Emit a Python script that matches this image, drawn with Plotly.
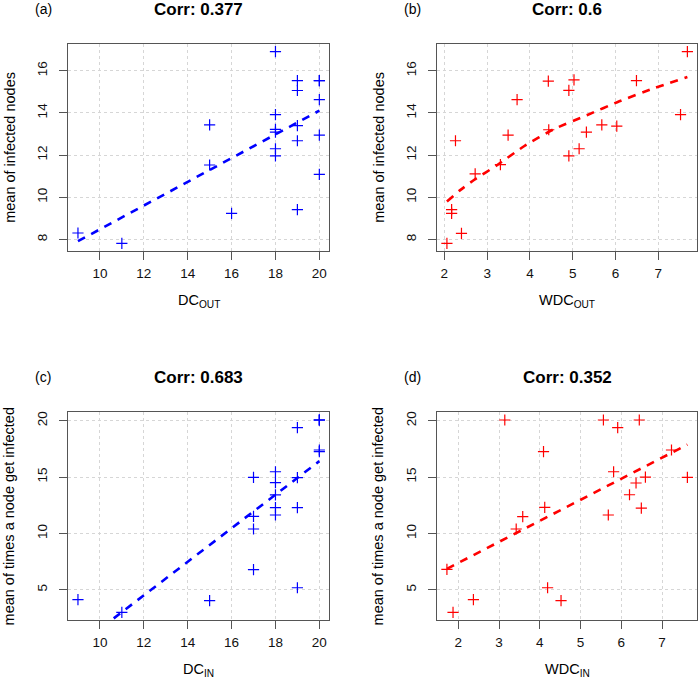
import numpy as np
import plotly.graph_objects as go

# ---------------- data ----------------
dc_out = [9, 11, 15, 15, 16, 18, 18, 18, 18, 18, 18, 19, 19, 19, 19, 19, 20, 20, 20, 20, 20]
inf_a = [8.31, 7.82, 13.43, 11.53, 9.24, 16.90, 13.92, 13.22, 13.09, 12.30, 11.96,
         15.53, 15.06, 13.40, 12.68, 9.42, 15.53, 15.53, 14.63, 12.95, 11.09]

wdc_out = [2.06, 2.40, 2.17, 2.17, 2.26, 2.72, 3.31, 3.49, 3.70, 4.43, 4.44,
           4.91, 5.03, 4.91, 5.15, 5.32, 5.68, 6.03, 6.49, 7.52, 7.68]
inf_b = [7.82, 8.29, 9.42, 9.24, 12.68, 11.11, 11.55, 12.95, 14.63, 15.50, 13.20,
         15.07, 15.56, 11.96, 12.30, 13.09, 13.43, 13.37, 15.53, 13.92, 16.90]
# fitted trend curve of panel (b)
trend_b_x = [2.06, 2.37, 2.70, 3.23, 3.87, 4.55, 5.33, 6.09, 6.88, 7.68]
trend_b_y = [9.80, 10.34, 10.83, 11.52, 12.43, 13.22, 13.89, 14.55, 15.15, 15.70]

dc_in = [20, 20, 20, 20, 20, 19, 19, 19, 19, 18, 18, 18, 18, 18, 17, 17, 17, 17, 15, 11, 9]
times_c = [20.06, 20.06, 20.06, 17.40, 17.25, 19.38, 14.94, 12.28, 5.18,
           15.47, 14.50, 13.41, 12.28, 11.63, 14.97, 11.51, 10.39, 6.78, 4.03, 3.00, 4.12]

wdc_in = [3.14, 5.56, 5.91, 6.44, 4.09, 7.23, 5.81, 6.59, 7.62, 6.36, 6.20,
          4.12, 6.49, 5.68, 3.58, 3.42, 1.72, 4.19, 2.37, 4.52, 1.87]
times_d = [20.06, 20.06, 19.38, 20.06, 17.25, 17.40, 15.47, 15.00, 14.97, 14.47, 13.43,
           12.31, 12.25, 11.63, 11.48, 10.39, 6.80, 5.18, 4.12, 4.03, 3.00]

titles = ["Corr: 0.377", "Corr: 0.6", "Corr: 0.683", "Corr: 0.352"]
tags = ["(a)", "(b)", "(c)", "(d)"]
y_titles = ["mean of infected nodes", "mean of infected nodes",
            "mean of times a node get infected", "mean of times a node get infected"]
x_main = ["DC", "WDC", "DC", "WDC"]
x_sub = ["OUT", "OUT", "IN", "IN"]
xticks_dc = [10, 12, 14, 16, 18, 20]
xticks_wdc = [2, 3, 4, 5, 6, 7]
yticks_top = [8, 10, 12, 14, 16]
yticks_bottom = [5, 10, 15, 20]

# ---------------- layout geometry (pixels) ----------------
W, H = 700, 690
cols = [(68.3, 329.0), (437.3, 697.0)]
rows = [(44.0, 251.0), (412.3, 620.0)]
FONT = "Liberation Sans, Arial, sans-serif"
BOX = "#555555"
BLUE = "#0000FF"
RED = "#FF0000"


def rrange(v):
    lo, hi = min(v), max(v)
    d = (hi - lo) * 0.04
    return [lo - d, hi + d]


def px(x):
    return x / W


def py(y):
    return 1 - y / H


def linear_trend(x, y):
    x = np.array(x, dtype=float)
    y = np.array(y, dtype=float)
    b, a = np.polyfit(x, y, 1)
    fx = np.array([x.min(), x.max()])
    return fx, a + b * fx


panels = [
    dict(x=dc_out, y=inf_a, color=BLUE, trend=linear_trend(dc_out, inf_a),
         xt=xticks_dc, yt=yticks_top, r=0, c=0),
    dict(x=wdc_out, y=inf_b, color=RED, trend=(trend_b_x, trend_b_y),
         xt=xticks_wdc, yt=yticks_top, r=0, c=1),
    dict(x=dc_in, y=times_c, color=BLUE, trend=linear_trend(dc_in, times_c),
         xt=xticks_dc, yt=yticks_bottom, r=1, c=0),
    dict(x=wdc_in, y=times_d, color=RED, trend=linear_trend(wdc_in, times_d),
         xt=xticks_wdc, yt=yticks_bottom, r=1, c=1),
]

fig = go.Figure()
annotations = []
layout = {}

for i, p in enumerate(panels):
    n = "" if i == 0 else str(i + 1)
    xa, ya = "x" + n, "y" + n
    fx, fy = p["trend"]

    fig.add_trace(go.Scatter(
        x=p["x"], y=p["y"], mode="markers", xaxis=xa, yaxis=ya, showlegend=False,
        marker=dict(symbol="cross-thin", size=8, color=p["color"],
                    line=dict(color=p["color"], width=1.2))))
    fig.add_trace(go.Scatter(
        x=fx, y=fy, mode="lines", xaxis=xa, yaxis=ya, showlegend=False,
        line=dict(color=p["color"], width=2.6, dash="8px,7px", shape="spline",
                  smoothing=0.6)))

    x0, x1 = cols[p["c"]]
    y0, y1 = rows[p["r"]]
    common = dict(showline=True, mirror=True, linecolor=BOX, linewidth=1,
                  ticks="outside", ticklen=8, tickwidth=1, tickcolor=BOX,
                  showgrid=True, gridcolor="#d6d6d6", griddash="dot", gridwidth=1,
                  zeroline=False, tickfont=dict(family=FONT, size=13.5, color="#111"))
    layout["xaxis" + n] = dict(common, domain=[px(x0), px(x1)], anchor=ya,
                               range=rrange(p["x"]), tickvals=p["xt"],
                               ticklabelstandoff=2)
    layout["yaxis" + n] = dict(common, domain=[py(y1), py(y0)], anchor=xa,
                               range=rrange(p["y"]), tickvals=p["yt"],
                               tickangle=-90, ticklabelstandoff=7)

    cx = (x0 + x1) / 2
    cy = (y0 + y1) / 2
    title_y = 9 if p["r"] == 0 else 377
    annotations.append(dict(text="<b>" + titles[i] + "</b>", x=px(cx), y=py(title_y),
                            xref="paper", yref="paper", showarrow=False,
                            xanchor="center", yanchor="middle",
                            font=dict(family=FONT, size=17, color="black")))
    annotations.append(dict(text=tags[i], x=px(x0 - 25), y=py(title_y),
                            xref="paper", yref="paper", showarrow=False,
                            xanchor="center", yanchor="middle",
                            font=dict(family=FONT, size=14, color="black")))
    annotations.append(dict(text=y_titles[i], x=px(x0 - 59), y=py(cy),
                            xref="paper", yref="paper", showarrow=False, textangle=-90,
                            xanchor="center", yanchor="middle",
                            font=dict(family=FONT, size=14.5, color="black")))
    annotations.append(dict(text=x_main[i] + "<sub>" + x_sub[i] + "</sub>",
                            x=px(cx), y=py(y1 + 50),
                            xref="paper", yref="paper", showarrow=False,
                            xanchor="center", yanchor="middle",
                            font=dict(family=FONT, size=14.5, color="black")))

fig.update_layout(width=W, height=H, margin=dict(l=0, r=0, t=0, b=0),
                  paper_bgcolor="white", plot_bgcolor="white",
                  annotations=annotations, **layout)

fig.write_html("out.html", config={"displayModeBar": False},
               post_script="document.body.style.margin='0';"
                           "document.body.style.overflow='hidden';")
